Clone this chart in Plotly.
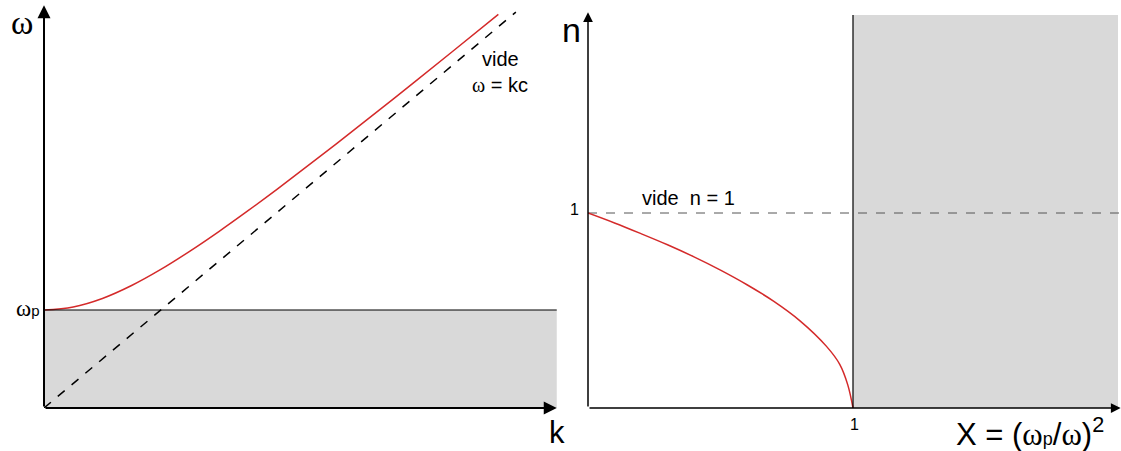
import plotly.graph_objects as go

W, H = 1121, 451

# ---- data ----
# left: dispersion relation omega(k), units omega_p = 1, c = 1
k_vals = [0.0, 0.25, 0.5, 0.75, 1.0, 1.25, 1.5, 1.75, 2.0, 2.5, 3.0, 3.5, 3.89]
omega_vals = [1.0, 1.031, 1.118, 1.250, 1.414, 1.601, 1.803, 2.016, 2.236, 2.693, 3.162, 3.640, 4.016]
vac_k = [0.0, 4.04]
vac_omega = [0.0, 4.04]
omega_p = 1.0
k_max = 4.39

# right: refractive index n(X)
X_vals = [0.0, 0.1, 0.2, 0.3, 0.4, 0.5, 0.6, 0.7, 0.8, 0.9, 0.95, 0.98, 1.0]
n_vals = [1.0, 0.949, 0.894, 0.837, 0.775, 0.707, 0.632, 0.548, 0.447, 0.316, 0.224, 0.12, 0.0]
n_vac = 1.0
X_cut = 1.0
X_max = 2.0
n_max = 2.015

RED = "#d42a2a"
GREY = "#d9d9d9"
SANS = "Liberation Sans"
SERIF = "Liberation Serif"

def px(x):
    return x / W

def py(y):
    return 1 - y / H

fig = go.Figure()

# left curves
fig.add_trace(go.Scatter(x=vac_k, y=vac_omega, mode="lines",
                         line=dict(color="black", width=1.5, dash="dash"),
                         xaxis="x", yaxis="y", hoverinfo="skip"))
fig.add_trace(go.Scatter(x=k_vals, y=omega_vals, mode="lines", line_shape="spline",
                         line=dict(color=RED, width=1.5),
                         xaxis="x", yaxis="y", hoverinfo="skip"))
# right curves
fig.add_trace(go.Scatter(x=[0, 2.02], y=[n_vac, n_vac], mode="lines",
                         line=dict(color="#555555", width=1, dash="dash"),
                         xaxis="x2", yaxis="y2", hoverinfo="skip"))
fig.add_trace(go.Scatter(x=X_vals, y=n_vals, mode="lines", line_shape="spline",
                         line=dict(color=RED, width=1.5),
                         xaxis="x2", yaxis="y2", hoverinfo="skip"))

shapes = [
    dict(type="rect", xref="x", yref="y", x0=0, x1=k_max, y0=0, y1=omega_p,
         fillcolor=GREY, line=dict(width=0), layer="below"),
    dict(type="line", xref="x", yref="y", x0=0, x1=k_max, y0=omega_p, y1=omega_p,
         line=dict(color="black", width=1.2)),
    dict(type="rect", xref="x2", yref="y2", x0=X_cut, x1=X_max, y0=0, y1=n_max,
         fillcolor=GREY, line=dict(width=0), layer="below"),
    dict(type="line", xref="x2", yref="y2", x0=X_cut, x1=X_cut, y0=0, y1=n_max,
         line=dict(color="black", width=1.2)),
]

ann = []
# axis arrows
def arrow(xref, yref, x0, y0, x1, y1, w):
    return dict(xref=xref, yref=yref, axref=xref, ayref=yref, x=x1, y=y1, ax=x0, ay=y0,
                text="", showarrow=True, arrowhead=2, arrowsize=1.3, arrowwidth=w,
                arrowcolor="black")

ann.append(arrow("x", "y", 0, 0, 0, 4.11, 2))
ann.append(arrow("x", "y", 0, 0, 4.39, 0, 2))
ann.append(arrow("x2", "y2", 0, 0, 0, 2.03, 1.5))
ann.append(arrow("x2", "y2", 0, 0, 2.01, 0, 1.5))

def label(text, x, y, size, xanchor="center", yanchor="middle", family=SANS):
    return dict(xref="paper", yref="paper", x=px(x), y=py(y), text=text, showarrow=False,
                xanchor=xanchor, yanchor=yanchor, font=dict(family=family, size=size, color="black"))

om = "<span style='font-family:%s'>ω</span>" % SERIF
ann += [
    label("ω", 22, 22, 34, family=SERIF),
    label(om + "<span style='font-size:15px'>p</span>", 41, 308, 23, xanchor="right"),
    label("vide", 500, 59, 20),
    label(om + " = kc", 500, 85, 20),
    label("k", 557, 432, 31),
    label("n", 571, 30, 34),
    label("1", 581, 210, 16, xanchor="right"),
    label("vide&nbsp;&nbsp;n = 1", 688, 198, 20),
    label("1", 854, 424, 16),
    label("X = (" + om + "<span style='font-size:18px'>p</span>/" + om + ")<sup>2</sup>",
          1030, 432, 31),
]

ax_common = dict(showgrid=False, zeroline=False, showticklabels=False, ticks="",
                 showline=False, fixedrange=True)

fig.update_layout(
    width=W, height=H,
    margin=dict(l=0, r=0, t=0, b=0),
    paper_bgcolor="white", plot_bgcolor="rgba(0,0,0,0)",
    showlegend=False,
    xaxis=dict(domain=[px(44), px(580)], range=[0, (580 - 44) / 116.8], **ax_common),
    yaxis=dict(domain=[py(408), py(1)], range=[0, (408 - 1) / 98.0], **ax_common),
    xaxis2=dict(domain=[px(588), 1.0], range=[0, (1121 - 588) / 265.0], anchor="y2", **ax_common),
    yaxis2=dict(domain=[py(408), py(1)], range=[0, (408 - 1) / 195.0], anchor="x2", **ax_common),
    shapes=shapes,
    annotations=ann,
)

fig.write_html("out.html", config={"displayModeBar": False},
               post_script="document.body.style.margin='0';document.body.style.overflow='hidden';")
